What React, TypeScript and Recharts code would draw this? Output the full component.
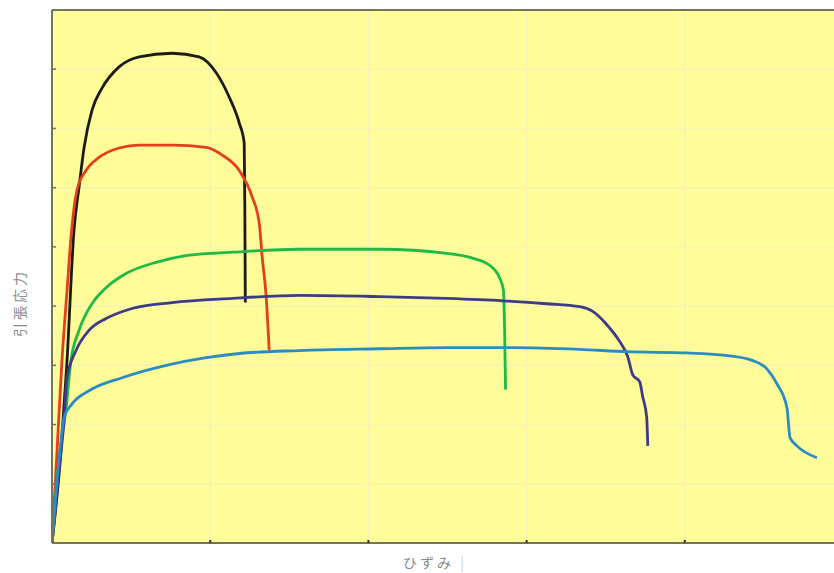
import { LineChart, Line, XAxis, YAxis, CartesianGrid, ReferenceLine } from "recharts";

// stress-strain curves, x = strain (grid units), y = stress (grid units)
const blackCurve = [
  { x: 0, y: 0 }, { x: 0.057, y: 1.56 }, { x: 0.095, y: 3.08 }, { x: 0.139, y: 5.28 },
  { x: 0.171, y: 6.01 }, { x: 0.203, y: 6.68 }, { x: 0.253, y: 7.31 }, { x: 0.316, y: 7.68 },
  { x: 0.424, y: 8.04 }, { x: 0.551, y: 8.21 }, { x: 0.759, y: 8.27 }, { x: 0.93, y: 8.21 },
  { x: 1.038, y: 7.94 }, { x: 1.12, y: 7.53 }, { x: 1.184, y: 7.09 }, { x: 1.215, y: 6.75 },
  { x: 1.219, y: 5.6 }, { x: 1.222, y: 4.06 },
];

const redCurve = [
  { x: 0, y: 0 }, { x: 0.032, y: 1.56 }, { x: 0.063, y: 3.08 }, { x: 0.095, y: 4.26 },
  { x: 0.12, y: 5.16 }, { x: 0.158, y: 5.96 }, { x: 0.215, y: 6.29 }, { x: 0.297, y: 6.51 },
  { x: 0.424, y: 6.67 }, { x: 0.551, y: 6.72 }, { x: 0.759, y: 6.72 }, { x: 0.975, y: 6.68 },
  { x: 1.076, y: 6.55 }, { x: 1.184, y: 6.29 }, { x: 1.266, y: 5.84 }, { x: 1.31, y: 5.4 },
  { x: 1.329, y: 4.82 }, { x: 1.354, y: 4.15 }, { x: 1.373, y: 3.25 },
];

const greenCurve = [
  { x: 0, y: 0 }, { x: 0.044, y: 1.39 }, { x: 0.089, y: 2.28 }, { x: 0.12, y: 3.08 },
  { x: 0.171, y: 3.59 }, { x: 0.253, y: 4.04 }, { x: 0.342, y: 4.31 }, { x: 0.468, y: 4.55 },
  { x: 0.658, y: 4.74 }, { x: 0.867, y: 4.86 }, { x: 1.139, y: 4.91 }, { x: 1.563, y: 4.96 },
  { x: 2.07, y: 4.96 }, { x: 2.494, y: 4.89 }, { x: 2.658, y: 4.81 }, { x: 2.766, y: 4.69 },
  { x: 2.829, y: 4.48 }, { x: 2.854, y: 4.26 }, { x: 2.861, y: 3.59 }, { x: 2.867, y: 2.59 },
];

const purpleCurve = [
  { x: 0, y: 0 }, { x: 0.044, y: 1.22 }, { x: 0.076, y: 2.06 }, { x: 0.095, y: 2.79 },
  { x: 0.152, y: 3.25 }, { x: 0.234, y: 3.59 }, { x: 0.342, y: 3.79 }, { x: 0.506, y: 3.96 },
  { x: 0.759, y: 4.06 }, { x: 1.139, y: 4.13 }, { x: 1.57, y: 4.18 }, { x: 2.07, y: 4.16 },
  { x: 2.494, y: 4.13 }, { x: 2.848, y: 4.09 }, { x: 3.127, y: 4.04 }, { x: 3.335, y: 3.99 },
  { x: 3.418, y: 3.91 }, { x: 3.506, y: 3.69 }, { x: 3.589, y: 3.4 }, { x: 3.639, y: 3.15 },
  { x: 3.671, y: 2.84 }, { x: 3.715, y: 2.72 }, { x: 3.734, y: 2.47 }, { x: 3.759, y: 2.13 },
  { x: 3.766, y: 1.64 },
];

const tealCurve = [
  { x: 0, y: 0 }, { x: 0.032, y: 1.05 }, { x: 0.057, y: 1.73 }, { x: 0.076, y: 2.12 },
  { x: 0.127, y: 2.35 }, { x: 0.234, y: 2.57 }, { x: 0.443, y: 2.79 }, { x: 0.722, y: 3.0 },
  { x: 0.975, y: 3.13 }, { x: 1.184, y: 3.2 }, { x: 1.563, y: 3.25 }, { x: 2.07, y: 3.28 },
  { x: 2.494, y: 3.3 }, { x: 2.911, y: 3.3 }, { x: 3.335, y: 3.27 }, { x: 3.633, y: 3.23 },
  { x: 4.013, y: 3.21 }, { x: 4.285, y: 3.16 }, { x: 4.43, y: 3.08 }, { x: 4.519, y: 2.94 },
  { x: 4.582, y: 2.69 }, { x: 4.646, y: 2.28 }, { x: 4.665, y: 1.78 }, { x: 4.709, y: 1.64 },
  { x: 4.835, y: 1.44 },
];

const xTicks = [0, 1, 2, 3, 4, 5];
const yTicks = [0, 1, 2, 3, 4, 5, 6, 7, 8, 9];

const series = [
  { name: "black", data: blackCurve, color: "#1c1c14" },
  { name: "red", data: redCurve, color: "#e2401c" },
  { name: "green", data: greenCurve, color: "#1fba45" },
  { name: "purple", data: purpleCurve, color: "#3d3a8a" },
  { name: "teal", data: tealCurve, color: "#2a8cc2" },
];

const AXIS = "#74745a";
const LABEL = { fontFamily: "'Noto Sans CJK JP', sans-serif", fontSize: 14, color: "#8a8a8a", letterSpacing: 3 };
const noLabel = () => "";

export default function App() {
  return (
    <div style={{ position: "fixed", left: 0, top: 0, width: 834, height: 573, overflow: "hidden", background: "#fff" }}>
      <LineChart width={860} height={573} margin={{ top: 10, right: 17, bottom: 30, left: 52 }}>
        <CartesianGrid fill="#fffc99" stroke="#f6f3b4" strokeWidth={1.5} />
        <XAxis
          type="number" dataKey="x" domain={[0, 5]} ticks={xTicks} allowDataOverflow
          height={1} tickFormatter={noLabel} mirror tickSize={3}
          axisLine={{ stroke: AXIS, strokeWidth: 2 }} tickLine={{ stroke: "#333", strokeWidth: 2 }}
        />
        <YAxis
          type="number" domain={[0, 9]} ticks={yTicks} allowDataOverflow
          width={1} tickFormatter={noLabel} mirror tickSize={4}
          axisLine={{ stroke: AXIS, strokeWidth: 2 }} tickLine={{ stroke: AXIS, strokeWidth: 1.5 }}
        />
        <ReferenceLine y={9} stroke={AXIS} strokeWidth={2} />
        {series.map(s => (
          <Line
            key={s.name} data={s.data} dataKey="y" type="monotone"
            stroke={s.color} strokeWidth={2.8} dot={false} isAnimationActive={false}
          />
        ))}
      </LineChart>
      <div style={{ ...LABEL, position: "absolute", left: 19, top: 303, transform: "translate(-50%, -50%) rotate(-90deg)", whiteSpace: "nowrap" }}>
        引張応力
      </div>
      <div style={{ ...LABEL, position: "absolute", left: 403, top: 552, whiteSpace: "nowrap" }}>
        ひずみ <span style={{ color: "#c8c8c8" }}>|</span>
      </div>
    </div>
  );
}
